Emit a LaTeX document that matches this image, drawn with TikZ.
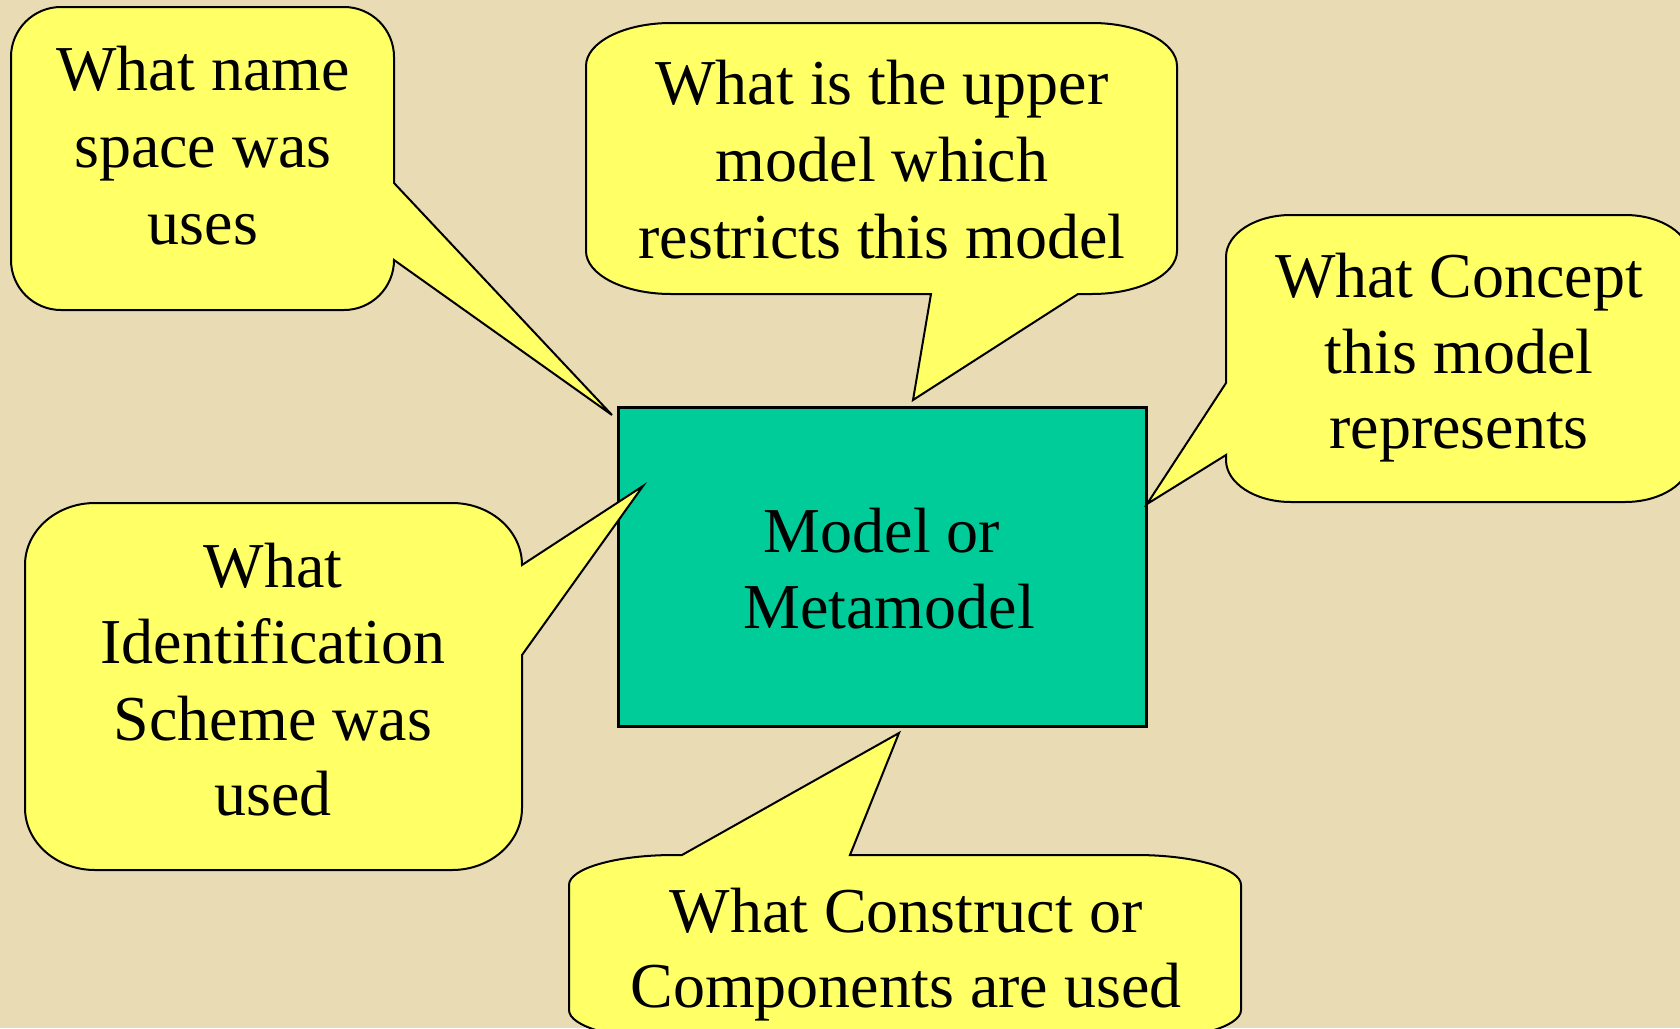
\documentclass[tikz,border=0pt]{standalone}
\usepackage{fontspec}
\setmainfont{Liberation Serif}
\usetikzlibrary{calc}
\definecolor{parch}{RGB}{233,219,180}
\definecolor{callyel}{RGB}{255,255,102}
\definecolor{boxteal}{RGB}{0,204,153}
\newcommand\rc[3]{.. controls ($(#2)!0.552!(#1)$) and ($(#3)!0.552!(#1)$) .. (#3)}
\tikzset{
  callout/.style={fill=callyel, draw=black, line width=1pt, line join=miter},
  mainbox/.style={fill=boxteal, draw=black, line width=1.5pt},
  txt/.style={font=\fontsize{32}{38}\selectfont, anchor=base, inner sep=0pt}
}
\begin{document}
\begin{tikzpicture}[x=0.5pt,y=-0.5pt]
\useasboundingbox (0,0) rectangle (1680,1028);
\clip (0,0) rectangle (1680,1028);
\fill[parch] (0,0) rectangle (1680,1028);

% central box
\draw[mainbox] (618,407) rectangle (1146,726);
\node[txt] (m1) at (882,552) {Model or};
\node[txt] (m2) at (889,628) {Metamodel};

% callout 1 (top left)
\draw[callout] (11,57) \rc{11,7}{11,57}{61,7} -- (344,7) \rc{394,7}{344,7}{394,57}
  -- (394,183) -- (612,415) -- (394,260) \rc{394,310}{394,260}{344,310}
  -- (61,310) \rc{11,310}{61,310}{11,260} -- cycle;
\node[txt] (a1) at (203,90) {What name};
\node[txt] (a2) at (203,167) {space was};
\node[txt] (a3) at (203,244) {uses};

% callout 2 (top middle)
\draw[callout] (586,66) \rc{586,23}{586,66}{671,23} -- (1092,23) \rc{1177,23}{1092,23}{1177,66}
  -- (1177,251) \rc{1177,294}{1177,251}{1092,294}
  -- (1078,294) -- (913,400) -- (931,294)
  -- (671,294) \rc{586,294}{671,294}{586,251} -- cycle;
\node[txt] (b1) at (882,104) {What is the upper};
\node[txt] (b2) at (882,181) {model which};
\node[txt] (b3) at (882,258) {restricts this model};

% callout 3 (right)
\draw[callout] (1226,257) \rc{1226,215}{1226,257}{1291,215} -- (1625,215) \rc{1690,215}{1625,215}{1690,257}
  -- (1690,460) \rc{1690,502}{1690,460}{1625,502}
  -- (1291,502) \rc{1226,502}{1291,502}{1226,460}
  -- (1226,455) -- (1147,504) -- (1226,383) -- cycle;
\node[txt] (c1) at (1459,297) {What Concept};
\node[txt] (c2) at (1459,373) {this model};
\node[txt] (c3) at (1459,448) {represents};

% callout 4 (left middle)
\draw[callout] (25,565) \rc{25,503}{25,565}{95,503} -- (452,503) \rc{522,503}{452,503}{522,565}
  -- (643,486) -- (522,655)
  -- (522,808) \rc{522,870}{522,808}{452,870}
  -- (95,870) \rc{25,870}{95,870}{25,808} -- cycle;
\node[txt] (d1) at (273,587) {What};
\node[txt] (d2) at (273,663) {Identification};
\node[txt] (d3) at (273,740) {Scheme was};
\node[txt] (d4) at (273,815) {used};

% callout 5 (bottom)
\draw[callout] (569,885) \rc{569,855}{569,885}{674,855} -- (682,855) -- (899,733) -- (850,855)
  -- (1136,855) \rc{1241,855}{1136,855}{1241,885}
  -- (1241,1010) \rc{1241,1040}{1241,1010}{1136,1040}
  -- (674,1040) \rc{569,1040}{674,1040}{569,1010} -- cycle;
\node[txt] (e1) at (906,932) {What Construct or};
\node[txt] (e2) at (906,1007) {Components are used};
\end{tikzpicture}
\end{document}
